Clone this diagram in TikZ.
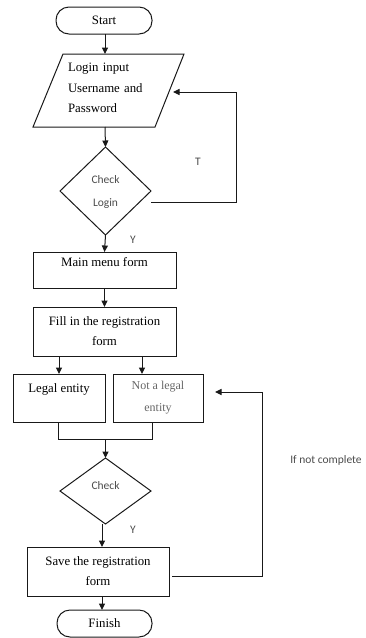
\documentclass[tikz,border=0pt]{standalone}
\usepackage{fontspec}
\setmainfont{Liberation Serif}
\newfontfamily\lblfont{Carlito}
\usetikzlibrary{arrows.meta,shapes.geometric,calc}
\begin{document}
\begin{tikzpicture}[x=1pt,y=1pt,
  every node/.style={inner sep=0pt, outer sep=0pt},
  line/.style={line width=1pt, draw=black!90},
  arr/.style={line, -{Triangle[length=6.5pt,width=6pt]}},
  txt/.style={font=\fontsize{12.8}{20}\selectfont, align=center},
  boxnode/.style={draw=black!90, line width=1pt, rectangle, txt},
  term/.style={draw=black!90, line width=1pt, rectangle, rounded corners=13pt, txt},
  dia/.style={draw=black!90, line width=1pt, diamond, aspect=1},
  lbl/.style={font=\lblfont\fontsize{11.5}{23}\selectfont, text=black!70, align=center}
]
\useasboundingbox (0,0) rectangle (366,-638);

% Start
\node[term, minimum width=96pt, minimum height=27pt] (st) at (104,-20.5) {Start};

% Login input parallelogram
\node[txt, text width=110pt, align=left, font=\fontsize{12.8}{20.5}\selectfont] (li) at (123,-88) {Login input\\Username and\\Password};
\draw[line] ([shift={(-60pt,34pt)}]li.center) -- ([shift={(61pt,34pt)}]li.center)
  -- ([shift={(32pt,-39pt)}]li.center) -- ([shift={(-90pt,-39pt)}]li.center) -- cycle;
\coordinate (litop) at (105,-54);
\coordinate (libot) at (105,-127);

% Check login diamond
\node[dia, minimum width=91pt, minimum height=88pt] (cl) at (105.5,-191) {};
\node[lbl] (cltxt) at (105.5,-191.5) {Check\\Login};

% Main menu
\node[boxnode, minimum width=143pt, minimum height=36pt] (mm) at (104.5,-270) {Main menu form\\[-4pt]~};

% Fill in
\node[boxnode, minimum width=143pt, minimum height=49pt] (fr) at (104.5,-331.5) {Fill in the registration\\form};

% Legal / not legal
\node[boxnode, minimum width=92pt, minimum height=48pt] (le) at (59,-398) {Legal entity\\[0pt]~};
\node[boxnode, minimum width=90pt, minimum height=48pt, text=black!60, font=\fontsize{12}{22}\selectfont] (nl) at (158,-398) {Not a legal\\entity};

% Check diamond
\node[dia, minimum width=91pt, minimum height=66pt] (ck) at (105.5,-491) {};
\node[lbl] (cktxt) at (105.5,-486) {Check};

% Save
\node[boxnode, minimum width=142pt, minimum height=49pt] (sv) at (98,-571.5) {Save the registration\\form};

% Finish
\node[term, minimum width=95pt, minimum height=27pt] (fi) at (104.5,-623.5) {Finish};

% labels
\node[lbl] (tl) at (198,-162) {T};
\node[lbl] (y1) at (133,-240) {Y};
\node[lbl] (y2) at (133,-530) {Y};
\node[lbl] (inc) at (326,-460) {If not complete};

% connectors
\draw[arr] (st.south -| litop) -- (litop);
\draw[arr] (libot) -- (cl.north);
\draw[arr] (cl.south) -- (mm.north);
\draw[arr] (mm.south) -- (fr.north);
\draw[arr] (fr.south -| le.south) -- (le.north);
\draw[arr] ([xshift=-16pt]fr.south -| nl.south) -- ([xshift=-16pt]nl.north);
\coordinate (ml) at (58,-439);
\coordinate (mr) at (152,-439);
\coordinate (mc) at (105.5,-439);
\draw[line] (le.south -| ml) -- (ml) -- (mr) -- (nl.south -| mr);
\draw[arr] (mc) -- (ck.north);
\draw[arr] (ck.south -| 102,0) -- (sv.north -| 102,0);
\draw[arr] (sv.south -| 102,0) -- (fi.north -| 102,0);

% loop 1
\coordinate (l1a) at (236,-202);
\coordinate (l1b) at (236,-92);
\coordinate (l1c) at (173,-92);
\draw[arr] ([yshift=-11pt]cl.east) -- (l1a) -- (l1b) -- (l1c);

% loop 2
\coordinate (l2a) at (262,-576);
\coordinate (l2b) at (262,-392);
\coordinate (l2c) at (215,-392);
\draw[arr] ([shift={(3pt,-4.5pt)}]sv.east) -- (l2a) -- (l2b) -- (l2c);
\end{tikzpicture}
\end{document}
